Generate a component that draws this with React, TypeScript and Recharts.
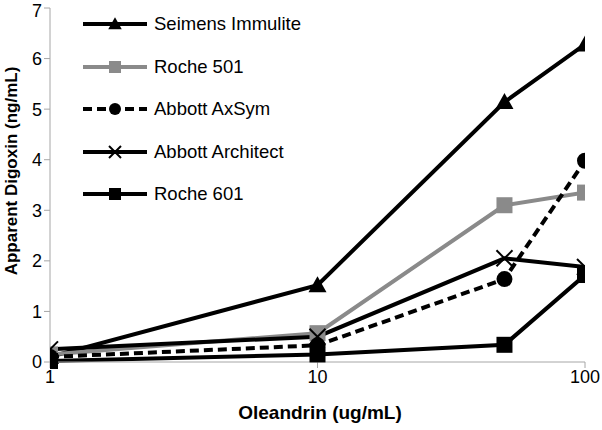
import { LineChart, Line, XAxis, YAxis, Label } from 'recharts';

const concentrations = [1, 10, 50, 100];
const seimensImmulite = [0.1, 1.52, 5.14, 6.28];
const roche501 = [0.15, 0.57, 3.1, 3.35];
const abbottAxSym = [0.1, 0.33, 1.64, 3.98];
const abbottArchitect = [0.25, 0.5, 2.05, 1.88];
const roche601 = [0.02, 0.15, 0.34, 1.72];
const xTicks = [1, 10, 100];
const yTicks = [0, 1, 2, 3, 4, 5, 6, 7];

const data = concentrations.map((c, i) => ({
  x: c,
  seimens: seimensImmulite[i],
  roche501: roche501[i],
  axsym: abbottAxSym[i],
  architect: abbottArchitect[i],
  roche601: roche601[i],
}));

type Shape = 'triangle' | 'square' | 'circle' | 'cross';

const series: { key: string; name: string; color: string; dash?: string; shape: Shape }[] = [
  { key: 'seimens', name: 'Seimens Immulite', color: '#000', shape: 'triangle' },
  { key: 'roche501', name: 'Roche 501', color: '#8a8a8a', shape: 'square' },
  { key: 'axsym', name: 'Abbott AxSym', color: '#000', dash: '9 5', shape: 'circle' },
  { key: 'architect', name: 'Abbott Architect', color: '#000', shape: 'cross' },
  { key: 'roche601', name: 'Roche 601', color: '#000', shape: 'square' },
];

function Marker({ cx, cy, shape, color, scale = 1 }: { cx: number; cy: number; shape: Shape; color: string; scale?: number }) {
  if (cx == null || cy == null) return null;
  const k = scale;
  if (shape === 'triangle') {
    return <polygon points={`${cx},${cy - 9 * k} ${cx + 9 * k},${cy + 7 * k} ${cx - 9 * k},${cy + 7 * k}`} fill={color} />;
  }
  if (shape === 'square') {
    return <rect x={cx - 8 * k} y={cy - 8 * k} width={16 * k} height={16 * k} fill={color} />;
  }
  if (shape === 'circle') {
    return <circle cx={cx} cy={cy} r={8 * k} fill={color} />;
  }
  return (
    <g stroke={color} strokeWidth={2}>
      <line x1={cx - 8 * k} y1={cy - 8 * k} x2={cx + 8 * k} y2={cy + 8 * k} />
      <line x1={cx - 8 * k} y1={cy + 8 * k} x2={cx + 8 * k} y2={cy - 8 * k} />
    </g>
  );
}

const font = 'Liberation Sans, Arial, sans-serif';

function LegendBox() {
  return (
    <div style={{ position: 'absolute', left: 83, top: 3, fontFamily: font, fontSize: 18.5 }}>
      {series.map(s => (
        <div key={s.key} style={{ display: 'flex', alignItems: 'center', height: 42.5 }}>
          <svg width={66} height={20}>
            <line x1={0} y1={10} x2={64} y2={10} stroke={s.color} strokeWidth={4} strokeDasharray={s.dash} />
            <Marker cx={32} cy={10} shape={s.shape} color={s.color} scale={0.75} />
          </svg>
          <span style={{ marginLeft: 5, color: '#000' }}>{s.name}</span>
        </div>
      ))}
    </div>
  );
}

export default function App() {
  return (
    <div style={{ position: 'absolute', left: 0, top: 0, width: 602, height: 430, background: '#fff' }}>
      <LineChart width={602} height={430} data={data} margin={{ top: 8, right: 17, bottom: 38, left: 0 }}>
        <XAxis
          dataKey="x"
          type="number"
          scale="log"
          domain={[1, 100]}
          ticks={xTicks}
          allowDataOverflow
          stroke="#a6a6a6"
          tickSize={6}
          tick={{ fill: '#000', fontSize: 18, fontFamily: font }}
          height={30}
        >
          <Label
            content={() => (
              <text x={320} y={419} textAnchor="middle" fontWeight="bold" fontSize={19} fontFamily={font} fill="#000">
                Oleandrin (ug/mL)
              </text>
            )}
          />
        </XAxis>
        <YAxis
          type="number"
          domain={[0, 7]}
          ticks={yTicks}
          width={50}
          stroke="#a6a6a6"
          tickSize={6}
          tick={{ fill: '#000', fontSize: 18, fontFamily: font }}
        >
          <Label
            content={() => (
              <text transform="translate(17,171) rotate(-90)" textAnchor="middle" fontWeight="bold" fontSize={17} fontFamily={font} fill="#000">
                Apparent Digoxin (ng/mL)
              </text>
            )}
          />
        </YAxis>
        {series.map(s => (
          <Line
            key={s.key}
            dataKey={s.key}
            name={s.name}
            stroke={s.color}
            strokeWidth={4}
            strokeDasharray={s.dash}
            isAnimationActive={false}
            dot={(p: any) => <Marker key={`${s.key}-${p.index}`} cx={p.cx} cy={p.cy} shape={s.shape} color={s.color} />}
            activeDot={false}
          />
        ))}
      </LineChart>
      <LegendBox />
    </div>
  );
}
